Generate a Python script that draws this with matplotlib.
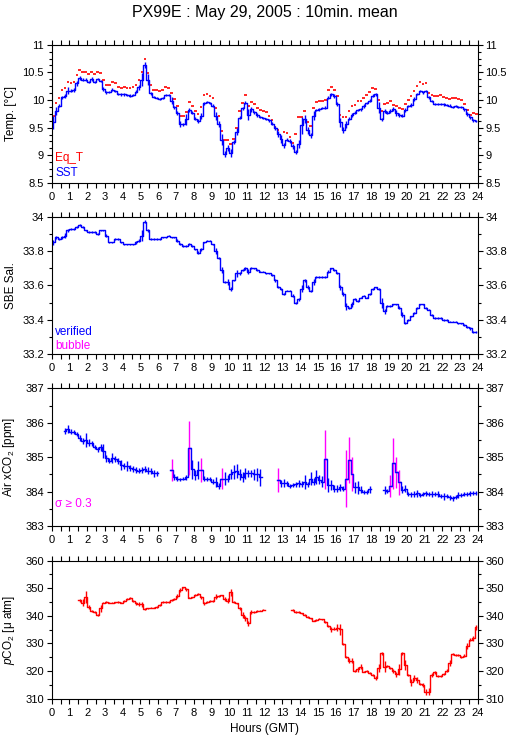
import numpy as np
import matplotlib
matplotlib.use('Agg')
import matplotlib.pyplot as plt
from matplotlib.ticker import MultipleLocator, FuncFormatter

plt.rcParams['font.family'] = ['Liberation Sans', 'DejaVu Sans']
plt.rcParams['mathtext.fontset'] = 'custom'
plt.rcParams['mathtext.rm'] = 'Liberation Sans'
plt.rcParams['mathtext.it'] = 'Liberation Sans:italic'

nan = np.nan

# 10-minute bins, centre of each bin in hours (GMT)
hours = np.arange(144) / 6 + 1 / 12

# Eq_T (red dashes), one row = 2 hours
eq_temp = [
    9.72, 9.94, 10.03, 10.18, 10.21, 10.32, 10.31, 10.33, 10.45, 10.54, 10.50, 10.50,
    10.47, 10.50, 10.47, 10.51, 10.48, 10.36, 10.27, 10.27, 10.33, 10.30, 10.24, 10.21,
    10.23, 10.21, 10.21, 10.23, 10.28, 10.37, 10.51, 10.75, 10.48, 10.27, 10.19, 10.18,
    10.16, 10.19, 10.23, 10.21, 10.12, 10.01, 9.90, 9.71, 9.71, 9.79, 9.97, 9.89,
    9.80, 9.75, 9.87, 10.09, 10.10, 10.07, 10.03, 9.85, 9.71, 9.44, 9.28, 9.27,
    9.21, 9.30, 9.50, 9.80, 9.95, 10.09, 9.89, 9.97, 9.92, 9.86, 9.82, 9.80,
    9.79, 9.72, 9.64, 9.52, 9.46, 9.34, 9.42, 9.40, 9.33, 9.22, 9.39, 9.69,
    9.69, 9.80, 9.61, 9.53, 9.85, 9.97, 9.98, 9.99, 10.00, 10.18, 10.23, 10.19,
    10.08, 9.73, 9.69, 9.69, 9.80, 9.89, 9.91, 9.98, 9.98, 10.03, 10.09, 10.15,
    10.22, 10.20, 10.00, 9.80, 9.92, 9.94, 9.99, 9.91, 9.89, 9.85, 9.83, 9.93,
    10.00, 10.07, 10.17, 10.25, 10.32, 10.29, 10.30, 10.12, 10.09, 10.08, 10.08, 10.09,
    10.06, 10.03, 10.01, 10.03, 10.03, 10.01, 10.00, 9.93, 9.82, 9.73, 9.76, 9.75,
]

sst = [
    9.60, 9.80, 9.90, 10.05, 10.07, 10.17, 10.17, 10.18, 10.30, 10.40, 10.37, 10.37,
    10.32, 10.38, 10.32, 10.38, 10.35, 10.20, 10.14, 10.15, 10.19, 10.17, 10.11, 10.10,
    10.10, 10.09, 10.08, 10.09, 10.15, 10.23, 10.37, 10.63, 10.37, 10.12, 10.06, 10.03,
    10.02, 10.04, 10.09, 10.09, 9.99, 9.87, 9.77, 9.57, 9.56, 9.65, 9.82, 9.77,
    9.66, 9.62, 9.71, 9.94, 9.97, 9.95, 9.90, 9.71, 9.57, 9.28, 9.02, 9.13,
    9.04, 9.24, 9.43, 9.68, 9.85, 9.95, 9.73, 9.83, 9.78, 9.73, 9.70, 9.68,
    9.65, 9.63, 9.57, 9.49, 9.39, 9.29, 9.18, 9.28, 9.26, 9.16, 9.06, 9.21,
    9.54, 9.66, 9.45, 9.36, 9.72, 9.82, 9.83, 9.85, 9.86, 10.04, 10.10, 10.07,
    9.93, 9.60, 9.46, 9.56, 9.66, 9.73, 9.77, 9.82, 9.83, 9.89, 9.95, 9.99,
    10.08, 10.10, 9.86, 9.65, 9.80, 9.77, 9.80, 9.84, 9.77, 9.73, 9.72, 9.82,
    9.89, 9.91, 10.02, 10.11, 10.17, 10.14, 10.17, 10.05, 9.98, 9.93, 9.93, 9.93,
    9.92, 9.91, 9.90, 9.88, 9.89, 9.88, 9.87, 9.83, 9.75, 9.69, 9.63, 9.62,
]

sst_std = [
    0.12, 0.07, 0.03, 0.03, 0.03, 0.06, 0.03, 0.03, 0.05, 0.03, 0.03, 0.03,
    0.02, 0.03, 0.02, 0.02, 0.02, 0.03, 0.03, 0.02, 0.02, 0.02, 0.02, 0.02,
    0.02, 0.02, 0.02, 0.02, 0.03, 0.04, 0.12, 0.05, 0.10, 0.03, 0.02, 0.02,
    0.02, 0.02, 0.02, 0.02, 0.06, 0.03, 0.04, 0.05, 0.03, 0.10, 0.04, 0.03,
    0.03, 0.03, 0.06, 0.03, 0.02, 0.02, 0.02, 0.08, 0.05, 0.10, 0.05, 0.06,
    0.07, 0.03, 0.07, 0.03, 0.03, 0.03, 0.10, 0.05, 0.03, 0.03, 0.02, 0.02,
    0.02, 0.02, 0.03, 0.04, 0.05, 0.07, 0.05, 0.03, 0.03, 0.05, 0.03, 0.07,
    0.15, 0.07, 0.07, 0.05, 0.08, 0.02, 0.02, 0.02, 0.03, 0.03, 0.03, 0.04,
    0.04, 0.08, 0.06, 0.06, 0.03, 0.03, 0.03, 0.02, 0.03, 0.03, 0.02, 0.02,
    0.02, 0.02, 0.10, 0.03, 0.03, 0.03, 0.03, 0.03, 0.05, 0.03, 0.02, 0.03,
    0.02, 0.03, 0.03, 0.02, 0.02, 0.03, 0.02, 0.03, 0.02, 0.02, 0.02, 0.02,
    0.02, 0.02, 0.02, 0.02, 0.02, 0.02, 0.02, 0.02, 0.03, 0.03, 0.02, 0.02,
]

salinity = [
    33.85, 33.88, 33.87, 33.88, 33.89, 33.92, 33.93, 33.93, 33.94, 33.95, 33.94, 33.92,
    33.91, 33.91, 33.91, 33.90, 33.92, 33.92, 33.89, 33.85, 33.85, 33.87, 33.87, 33.85,
    33.84, 33.84, 33.84, 33.84, 33.85, 33.86, 33.89, 33.97, 33.92, 33.87, 33.87, 33.87,
    33.87, 33.88, 33.88, 33.89, 33.88, 33.88, 33.86, 33.84, 33.83, 33.83, 33.84, 33.83,
    33.81, 33.79, 33.81, 33.85, 33.86, 33.86, 33.84, 33.80, 33.76, 33.69, 33.62, 33.62,
    33.58, 33.63, 33.67, 33.67, 33.69, 33.70, 33.68, 33.70, 33.70, 33.69, 33.68, 33.68,
    33.67, 33.67, 33.66, 33.63, 33.59, 33.58, 33.55, 33.57, 33.57, 33.54, 33.50, 33.52,
    33.58, 33.63, 33.59, 33.57, 33.62, 33.65, 33.65, 33.65, 33.65, 33.68, 33.70, 33.69,
    33.67, 33.59, 33.55, 33.48, 33.47, 33.49, 33.52, 33.51, 33.53, 33.54, 33.53, 33.55,
    33.58, 33.59, 33.58, 33.50, 33.45, 33.48, 33.48, 33.49, 33.49, 33.47, 33.43, 33.38,
    33.40, 33.42, 33.44, 33.47, 33.49, 33.49, 33.47, 33.46, 33.43, 33.41, 33.41, 33.41,
    33.40, 33.40, 33.39, 33.39, 33.39, 33.38, 33.38, 33.37, 33.36, 33.35, 33.33, 33.33,
]

salinity_std = [
    0.015, 0.008, 0.005, 0.008, 0.015, 0.010, 0.005, 0.005, 0.008, 0.005, 0.005, 0.004,
    0.004, 0.004, 0.004, 0.005, 0.004, 0.004, 0.008, 0.004, 0.004, 0.004, 0.004, 0.004,
    0.004, 0.004, 0.004, 0.004, 0.006, 0.008, 0.030, 0.008, 0.010, 0.004, 0.004, 0.004,
    0.004, 0.004, 0.004, 0.004, 0.004, 0.004, 0.008, 0.006, 0.004, 0.004, 0.006, 0.006,
    0.004, 0.008, 0.010, 0.004, 0.004, 0.004, 0.004, 0.015, 0.008, 0.015, 0.006, 0.015,
    0.010, 0.004, 0.020, 0.008, 0.004, 0.008, 0.015, 0.006, 0.004, 0.004, 0.004, 0.004,
    0.004, 0.004, 0.006, 0.008, 0.006, 0.008, 0.006, 0.004, 0.004, 0.008, 0.006, 0.010,
    0.020, 0.010, 0.010, 0.006, 0.015, 0.004, 0.004, 0.004, 0.004, 0.008, 0.004, 0.006,
    0.006, 0.015, 0.010, 0.020, 0.006, 0.015, 0.006, 0.006, 0.004, 0.004, 0.004, 0.006,
    0.006, 0.004, 0.004, 0.030, 0.015, 0.008, 0.006, 0.004, 0.004, 0.008, 0.015, 0.006,
    0.006, 0.004, 0.004, 0.006, 0.004, 0.004, 0.006, 0.004, 0.006, 0.004, 0.004, 0.004,
    0.004, 0.004, 0.004, 0.004, 0.004, 0.004, 0.004, 0.004, 0.006, 0.006, 0.006, 0.004,
]

air_xco2 = [
    nan, nan, nan, nan, 385.76, 385.81, 385.74, 385.74, 385.67, 385.55, 385.47, 385.50,
    385.42, 385.40, 385.29, 385.23, 385.29, 385.18, 384.97, 384.90, 384.97, 384.94, 384.89, 384.77,
    384.74, 384.74, 384.68, 384.65, 384.63, 384.61, 384.63, 384.65, 384.61, 384.60, 384.53, 384.53,
    nan, nan, nan, nan, 384.63, 384.43, 384.38, 384.36, 384.38, 384.41, 385.26, 384.65,
    384.48, 384.63, 384.63, 384.38, 384.36, 384.36, 384.29, 384.27, 384.16, 384.38, 384.38, 384.38,
    384.51, 384.58, 384.60, 384.50, 384.43, 384.53, 384.53, 384.53, 384.50, 384.50, 384.42, nan,
    nan, nan, nan, nan, 384.34, 384.24, 384.24, 384.24, 384.16, 384.19, 384.21, 384.24,
    384.22, 384.29, 384.21, 384.38, 384.29, 384.43, 384.35, 384.29, 384.94, 384.19, 384.19, 384.09,
    384.09, 384.12, 384.09, 384.38, 384.92, 384.51, 384.12, 384.12, 384.05, 384.00, 384.00, 384.07,
    nan, nan, nan, nan, 384.05, 384.03, 384.16, 384.82, 384.56, 384.27, 384.05, 384.08,
    383.93, 383.92, 383.93, 383.95, 383.90, 383.93, 383.95, 383.93, 383.93, 383.93, 383.93, 383.88,
    383.87, 383.87, 383.83, 383.80, 383.85, 383.90, 383.90, 383.93, 383.93, 383.95, 383.95, 383.97,
]

air_xco2_std = [
    nan, nan, nan, nan, 0.10, 0.12, 0.08, 0.06, 0.06, 0.08, 0.10, 0.20,
    0.10, 0.08, 0.06, 0.08, 0.10, 0.20, 0.10, 0.08, 0.15, 0.08, 0.08, 0.15,
    0.08, 0.15, 0.08, 0.08, 0.08, 0.08, 0.08, 0.08, 0.10, 0.08, 0.10, 0.08,
    nan, nan, nan, nan, 0.33, 0.08, 0.06, 0.04, 0.04, 0.06, 0.78, 0.28,
    0.15, 0.25, 0.36, 0.06, 0.06, 0.06, 0.08, 0.15, 0.08, 0.30, 0.18, 0.10,
    0.15, 0.20, 0.20, 0.15, 0.15, 0.15, 0.10, 0.10, 0.15, 0.18, 0.25, nan,
    nan, nan, nan, nan, 0.35, 0.10, 0.12, 0.08, 0.05, 0.06, 0.08, 0.10,
    0.08, 0.20, 0.08, 0.20, 0.10, 0.20, 0.12, 0.15, 0.85, 0.20, 0.15, 0.10,
    0.10, 0.10, 0.08, 0.82, 0.67, 0.50, 0.15, 0.20, 0.10, 0.06, 0.06, 0.10,
    nan, nan, nan, nan, 0.12, 0.06, 0.32, 0.73, 0.45, 0.37, 0.10, 0.10,
    0.06, 0.08, 0.10, 0.10, 0.06, 0.06, 0.08, 0.06, 0.08, 0.06, 0.08, 0.06,
    0.10, 0.06, 0.06, 0.06, 0.06, 0.08, 0.06, 0.06, 0.06, 0.08, 0.06, 0.06,
]

pco2 = [
    nan, nan, nan, nan, nan, nan, nan, nan, nan, 345.6, 344.8, 346.7,
    343.3, 341.8, 341.5, 340.3, 342.7, 344.8, 345.0, 344.8, 344.8, 344.9, 345.0, 344.8,
    345.5, 346.0, 346.4, 345.5, 344.5, 344.2, 344.2, 342.5, 342.7, 343.0, 343.0, 343.3,
    343.9, 345.0, 345.1, 345.0, 345.7, 346.1, 347.2, 349.4, 350.3, 349.6, 346.6, 346.7,
    347.6, 347.9, 346.7, 344.5, 345.0, 345.5, 345.4, 347.0, 347.2, 347.4, 346.0, 345.5,
    348.5, 345.1, 344.5, 342.7, 340.3, 339.1, 337.3, 341.5, 341.5, 341.8, 341.9, 342.3,
    nan, nan, nan, nan, nan, nan, nan, nan, nan, 342.2, 341.5, 341.4,
    340.9, 340.3, 339.5, 339.1, 338.3, 338.5, 339.0, 338.7, 337.8, 336.3, 335.1, 335.4,
    335.7, 335.1, 329.8, 325.0, 323.8, 323.8, 320.0, 320.6, 321.6, 319.8, 320.0, 319.4,
    318.6, 317.5, 321.2, 326.4, 321.6, 321.8, 321.0, 320.0, 318.8, 320.7, 326.4, 322.2,
    318.6, 315.9, 317.4, 316.8, 315.3, 314.8, 312.5, 312.5, 318.6, 319.5, 318.2, 318.2,
    318.8, 320.1, 323.0, 326.1, 325.8, 325.8, 325.0, 325.6, 329.1, 331.3, 331.8, 335.8,
]

pco2_std = [
    nan, nan, nan, nan, nan, nan, nan, nan, nan, 0.4, 1.2, 2.2,
    0.8, 0.3, 0.3, 0.3, 1.3, 0.3, 0.3, 0.3, 0.3, 0.3, 0.3, 0.3,
    0.3, 0.3, 0.4, 0.3, 0.4, 0.8, 1.0, 0.4, 0.3, 0.3, 0.3, 0.3,
    0.3, 0.3, 0.3, 0.3, 0.3, 0.4, 0.6, 0.6, 0.3, 0.6, 0.3, 0.3,
    0.3, 0.3, 0.6, 0.4, 0.3, 0.3, 0.3, 0.8, 0.4, 0.3, 0.7, 1.0,
    1.2, 0.3, 0.3, 0.4, 1.0, 1.0, 0.8, 0.7, 0.3, 0.3, 0.3, 0.3,
    nan, nan, nan, nan, nan, nan, nan, nan, nan, 0.4, 0.3, 0.3,
    0.3, 0.3, 0.3, 0.3, 0.3, 0.3, 0.3, 0.3, 0.3, 0.3, 0.8, 0.4,
    1.2, 2.0, 0.5, 0.4, 0.8, 1.0, 0.4, 0.8, 0.8, 0.3, 0.3, 0.3,
    0.3, 0.8, 1.5, 0.5, 2.0, 0.4, 0.4, 0.8, 0.8, 2.0, 0.5, 1.7,
    0.5, 1.3, 1.0, 1.0, 0.4, 0.7, 1.0, 1.3, 0.8, 0.4, 0.4, 0.4,
    0.4, 0.5, 1.0, 0.4, 0.3, 0.3, 0.3, 0.4, 1.0, 0.5, 1.0, 0.9,
]

SIGMA_FLAG = 0.3

RED = '#ff0000'
BLUE = '#0000ff'
MAGENTA = '#ff00ff'


def setup_axis(ax, ylim, major, minor, ylabel):
    ax.set_xlim(0, 24)
    ax.set_ylim(*ylim)
    ax.xaxis.set_major_locator(MultipleLocator(1))
    ax.xaxis.set_minor_locator(MultipleLocator(0.5))
    ax.yaxis.set_major_locator(MultipleLocator(major))
    ax.yaxis.set_minor_locator(MultipleLocator(minor))
    ax.yaxis.set_major_formatter(FuncFormatter(lambda v, p: '%g' % round(v, 3)))
    ax.tick_params(which='both', direction='out', top=True, right=True,
                   labelright=True, labelsize=8, width=0.8, pad=2)
    ax.tick_params(axis='x', which='both', length=3.5, pad=3)
    ax.tick_params(axis='y', which='major', length=3.5)
    ax.tick_params(axis='y', which='minor', length=2)
    for s in ax.spines.values():
        s.set_linewidth(0.8)
    ax.set_ylabel(ylabel, fontsize=8.5)
    # label sits in the left margin like the original page
    ax.yaxis.set_label_coords(-0.081, 0.5)


def step_with_errors(ax, y, err, color, lw=1.0):
    ax.step(hours, y, where='mid', color=color, lw=lw)
    ax.errorbar(hours, y, yerr=err, fmt='none', ecolor=color, elinewidth=lw)


fig = plt.figure(figsize=(5.15, 7.39), dpi=100)
left, width = 0.1004, 0.8272
ax1 = fig.add_axes([left, 0.7524, width, 0.1871])
ax2 = fig.add_axes([left, 0.5206, width, 0.1862])
ax3 = fig.add_axes([left, 0.2882, width, 0.1863])
ax4 = fig.add_axes([left, 0.0546, width, 0.1867])

fig.text(0.514, 1 - 13 / 739, 'PX99E : May 29, 2005 : 10min. mean',
         ha='center', va='center', fontsize=11.5)

# temperature
ax1.hlines(eq_temp, hours - 0.075, hours + 0.075, color=RED, lw=1.2)
step_with_errors(ax1, sst, sst_std, BLUE)
setup_axis(ax1, (8.5, 11), 0.5, 0.125, 'Temp. [°C]')
ax1.text(0.008, 0.18, 'Eq_T', color=RED, transform=ax1.transAxes, fontsize=8.5, va='center')
ax1.text(0.008, 0.075, 'SST', color=BLUE, transform=ax1.transAxes, fontsize=8.5, va='center')

# salinity
step_with_errors(ax2, salinity, salinity_std, BLUE)
setup_axis(ax2, (33.2, 34), 0.2, 0.1, 'SBE Sal.')
ax2.text(0.008, 0.16, 'verified', color=BLUE, transform=ax2.transAxes, fontsize=8.5, va='center')
ax2.text(0.008, 0.062, 'bubble', color=MAGENTA, transform=ax2.transAxes, fontsize=8.5, va='center')

# atmospheric xCO2, bars with sigma >= 0.3 in magenta
xco2 = np.array(air_xco2)
xco2_err = np.array(air_xco2_std)
flag = xco2_err >= SIGMA_FLAG
ax3.step(hours, xco2, where='mid', color=BLUE, lw=1.0)
ax3.errorbar(hours[~flag], xco2[~flag], yerr=xco2_err[~flag], fmt='none', ecolor=BLUE, elinewidth=1.0)
ax3.errorbar(hours[flag], xco2[flag], yerr=xco2_err[flag], fmt='none', ecolor=MAGENTA, elinewidth=1.0)
ax3.hlines(xco2[flag], hours[flag] - 1 / 12, hours[flag] + 1 / 12, color=BLUE, lw=1.0)
setup_axis(ax3, (383, 387), 1, 0.5, 'Air xCO$_2$ [ppm]')
ax3.text(0.008, 0.158, 'σ ≥ 0.3', color=MAGENTA, transform=ax3.transAxes, fontsize=8.5, va='center')

# seawater pCO2
step_with_errors(ax4, pco2, pco2_std, RED)
setup_axis(ax4, (310, 360), 10, 5, '$p$CO$_2$ [μ atm]')
ax4.set_xlabel('Hours (GMT)', fontsize=8.5, labelpad=4)

fig.savefig('out.png', dpi=100)
